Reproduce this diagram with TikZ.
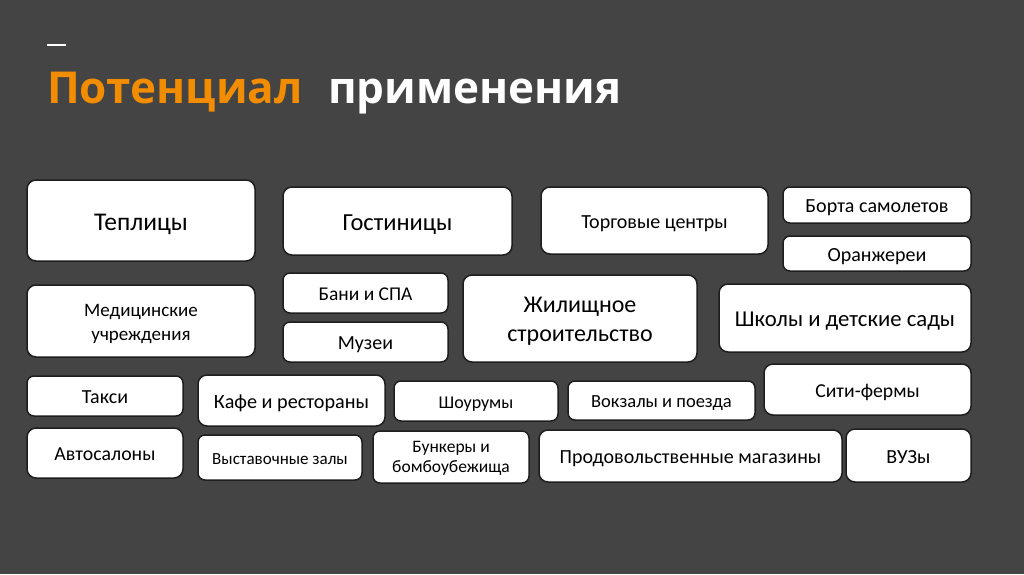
\documentclass[tikz,border=0pt]{standalone}
\usepackage{fontspec}
\setmainfont{Carlito}
\newfontfamily\titlefont{Open Sans}
\definecolor{slidebg}{HTML}{444444}
\definecolor{accent}{HTML}{F28C00}
\definecolor{boxline}{HTML}{1E1E1E}
\newcommand{\fs}[1]{\fontsize{#1}{#1}\selectfont}

\begin{document}
\begin{tikzpicture}[
    x=1pt, y=-1pt,
    tile/.style={
        draw=boxline,
        line width=1.5pt,
        fill=white,
        rounded corners=9pt,
        align=center,
        inner sep=2pt,
        text=black,
        font=\fs{#1},
        text height=0.78*#1pt,
        text depth=0pt
    },
    smalltile/.style={
        tile=#1,
        rounded corners=7pt
    },
    heading/.style={
        anchor=base west,
        inner sep=0pt,
        font=\titlefont\bfseries\fs{44}
    }
]

% ---------------------------------------------------------------------------
% Slide background
% ---------------------------------------------------------------------------
\fill[slidebg] (0,0) rectangle (1024,574);
\useasboundingbox (0,0) rectangle (1024,574);

% ---------------------------------------------------------------------------
% Title
% ---------------------------------------------------------------------------
\draw[white, line width=2pt] (47,45) -- (66,45);
\node[heading, text=accent] (titleA) at (47,103) {Потенциал};
\node[heading, text=white] (titleB) at (328,103) {применения};

% ---------------------------------------------------------------------------
% Row 1
% ---------------------------------------------------------------------------
\node[tile=25.5, minimum width=228pt, minimum height=81pt] (teplicy) at (141,220.5) {Теплицы};
\node[tile=24.5, minimum width=229pt, minimum height=68pt] (gostinicy) at (397.5,221) {Гостиницы};
\node[tile=20, minimum width=227pt, minimum height=67pt] (torgovye) at (654.5,220.5) {Торговые центры};
\node[smalltile=20, minimum width=188pt, minimum height=36pt] (borta) at (877,205) {Борта самолетов};
\node[smalltile=20, minimum width=188pt, minimum height=35pt] (oranzherei) at (877,253.5) {Оранжереи};

% ---------------------------------------------------------------------------
% Row 2
% ---------------------------------------------------------------------------
\node[tile=19, minimum width=228pt, minimum height=72pt, text height=38.2pt] (medicina) at (141,321) {Медицинские\\[5pt]учреждения};
\node[smalltile=19.5, minimum width=165pt, minimum height=40pt] (bani) at (365.5,293) {Бани и СПА};
\node[smalltile=20, minimum width=165pt, minimum height=40pt] (muzei) at (365.5,342) {Музеи};
\node[tile=24, minimum width=234pt, minimum height=87pt, text height=46.4pt] (zhilye) at (580,318.5) {Жилищное\\[5pt]строительство};
\node[tile=22.7, minimum width=252pt, minimum height=68pt] (shkoly) at (845,318) {Школы и детские сады};

% ---------------------------------------------------------------------------
% Row 3
% ---------------------------------------------------------------------------
\node[smalltile=20, minimum width=156pt, minimum height=40pt] (taksi) at (105,396) {Такси};
\node[tile=20.2, minimum width=187pt, minimum height=51pt] (kafe) at (291.5,400.5) {Кафе и рестораны};
\node[smalltile=18, minimum width=164pt, minimum height=40pt] (shourumy) at (476,401) {Шоурумы};
\node[smalltile=18.5, minimum width=187pt, minimum height=39pt] (vokzaly) at (661.5,400.5) {Вокзалы и поезда};
\node[tile=19.7, minimum width=207pt, minimum height=51pt] (sitifermy) at (867.5,389.5) {Сити-фермы};

% ---------------------------------------------------------------------------
% Row 4
% ---------------------------------------------------------------------------
\node[tile=19.8, minimum width=156pt, minimum height=50pt] (avtosalony) at (105,453) {Автосалоны};
\node[smalltile=17, minimum width=164pt, minimum height=45pt] (vystavki) at (280,457.5) {Выставочные залы};
\node[smalltile=17.5, minimum width=156pt, minimum height=52pt, text height=31.4pt] (bunkery) at (451,457) {Бункеры и\\[2.5pt]бомбоубежища};
\node[tile=20, minimum width=303pt, minimum height=52pt] (magaziny) at (690.5,456) {Продовольственные магазины};
\node[tile=20, minimum width=125pt, minimum height=53pt] (vuzy) at (908.5,455.5) {ВУЗы};

\end{tikzpicture}
\end{document}
